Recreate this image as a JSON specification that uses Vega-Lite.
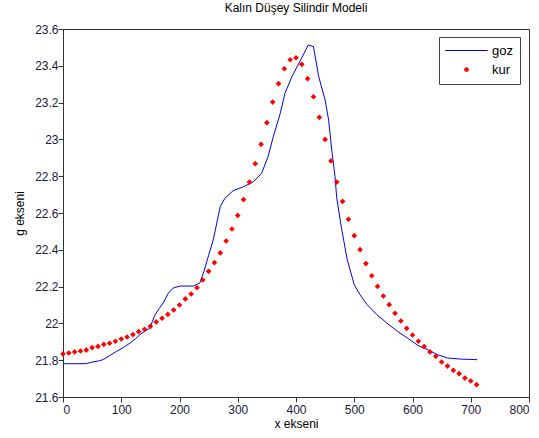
{
  "$schema": "https://vega.github.io/schema/vega-lite/v6.json",
  "width": 466,
  "height": 368,
  "autosize": {"type": "none"},
  "padding": {"left": 63, "top": 29, "right": 10, "bottom": 41},
  "background": "white",
  "title": {"text": "Kalın Düşey Silindir Modeli", "font": "Liberation Sans", "fontSize": 12, "fontWeight": "normal", "color": "#000000", "anchor": "middle", "offset": 8},
  "config": {
    "view": {"stroke": "#333333", "strokeWidth": 1},
    "axis": {"grid": false, "domain": true, "domainColor": "#333333", "ticks": true, "tickColor": "#333333", "tickWidth": 1, "labelFont": "Liberation Sans", "labelFontSize": 12, "labelColor": "#1a1a3a", "titleFont": "Liberation Sans", "titleFontSize": 12, "titleFontWeight": "normal", "titleColor": "#000000"}
  },
  "datasets": {
    "goz": [
      {"x": 0, "g": 21.781}, {"x": 40, "g": 21.781}, {"x": 50, "g": 21.79}, {"x": 61, "g": 21.796},
      {"x": 69, "g": 21.803}, {"x": 80, "g": 21.825}, {"x": 92, "g": 21.848}, {"x": 104, "g": 21.87},
      {"x": 115, "g": 21.893}, {"x": 124, "g": 21.915}, {"x": 132, "g": 21.939}, {"x": 141, "g": 21.958},
      {"x": 149, "g": 21.975}, {"x": 158, "g": 22.047}, {"x": 165, "g": 22.08}, {"x": 172, "g": 22.111},
      {"x": 181, "g": 22.165}, {"x": 189, "g": 22.192}, {"x": 201, "g": 22.203}, {"x": 224, "g": 22.203},
      {"x": 235, "g": 22.22}, {"x": 242, "g": 22.283}, {"x": 250, "g": 22.37}, {"x": 258, "g": 22.455},
      {"x": 270, "g": 22.636}, {"x": 278, "g": 22.68}, {"x": 292, "g": 22.721}, {"x": 310, "g": 22.743},
      {"x": 327, "g": 22.77}, {"x": 341, "g": 22.816}, {"x": 352, "g": 22.906}, {"x": 361, "g": 23.015},
      {"x": 373, "g": 23.142}, {"x": 381, "g": 23.25}, {"x": 393, "g": 23.341}, {"x": 408, "g": 23.432},
      {"x": 421, "g": 23.513}, {"x": 430, "g": 23.504}, {"x": 439, "g": 23.341}, {"x": 450, "g": 23.214},
      {"x": 456, "g": 23.105}, {"x": 462, "g": 22.924}, {"x": 467, "g": 22.797}, {"x": 470, "g": 22.68},
      {"x": 478, "g": 22.52}, {"x": 488, "g": 22.346}, {"x": 500, "g": 22.21}, {"x": 510, "g": 22.156},
      {"x": 522, "g": 22.102}, {"x": 539, "g": 22.047}, {"x": 556, "g": 22.002}, {"x": 574, "g": 21.957},
      {"x": 591, "g": 21.921}, {"x": 609, "g": 21.881}, {"x": 626, "g": 21.857}, {"x": 643, "g": 21.83},
      {"x": 660, "g": 21.812}, {"x": 683, "g": 21.806}, {"x": 711, "g": 21.803}
    ],
    "kur": [
      {"x": 0, "g": 21.834}, {"x": 10, "g": 21.839}, {"x": 20, "g": 21.845}, {"x": 30, "g": 21.85},
      {"x": 40, "g": 21.855}, {"x": 50, "g": 21.868}, {"x": 60, "g": 21.875}, {"x": 70, "g": 21.886},
      {"x": 80, "g": 21.892}, {"x": 90, "g": 21.903}, {"x": 100, "g": 21.915}, {"x": 110, "g": 21.926},
      {"x": 120, "g": 21.939}, {"x": 130, "g": 21.955}, {"x": 140, "g": 21.968}, {"x": 150, "g": 21.984},
      {"x": 160, "g": 22.008}, {"x": 170, "g": 22.028}, {"x": 180, "g": 22.049}, {"x": 190, "g": 22.073},
      {"x": 200, "g": 22.1}, {"x": 210, "g": 22.133}, {"x": 220, "g": 22.16}, {"x": 230, "g": 22.194},
      {"x": 240, "g": 22.236}, {"x": 250, "g": 22.283}, {"x": 260, "g": 22.33}, {"x": 270, "g": 22.383},
      {"x": 280, "g": 22.448}, {"x": 290, "g": 22.513}, {"x": 300, "g": 22.587}, {"x": 310, "g": 22.673},
      {"x": 320, "g": 22.768}, {"x": 330, "g": 22.868}, {"x": 340, "g": 22.973}, {"x": 350, "g": 23.091},
      {"x": 360, "g": 23.203}, {"x": 370, "g": 23.303}, {"x": 380, "g": 23.384}, {"x": 390, "g": 23.433},
      {"x": 400, "g": 23.444}, {"x": 410, "g": 23.408}, {"x": 420, "g": 23.33}, {"x": 430, "g": 23.232},
      {"x": 440, "g": 23.12}, {"x": 450, "g": 23.0}, {"x": 460, "g": 22.883}, {"x": 470, "g": 22.768},
      {"x": 480, "g": 22.663}, {"x": 490, "g": 22.566}, {"x": 500, "g": 22.477}, {"x": 510, "g": 22.401},
      {"x": 520, "g": 22.325}, {"x": 530, "g": 22.259}, {"x": 540, "g": 22.201}, {"x": 550, "g": 22.149},
      {"x": 560, "g": 22.102}, {"x": 570, "g": 22.055}, {"x": 580, "g": 22.013}, {"x": 590, "g": 21.973},
      {"x": 600, "g": 21.937}, {"x": 610, "g": 21.903}, {"x": 620, "g": 21.874}, {"x": 630, "g": 21.845},
      {"x": 640, "g": 21.821}, {"x": 650, "g": 21.79}, {"x": 660, "g": 21.768}, {"x": 670, "g": 21.745},
      {"x": 680, "g": 21.727}, {"x": 690, "g": 21.703}, {"x": 700, "g": 21.687}, {"x": 710, "g": 21.667}
    ]
  },
  "layer": [
    {
      "data": {"name": "goz"},
      "transform": [{"calculate": "'goz'", "as": "seri"}],
      "mark": {"type": "line", "strokeWidth": 1, "interpolate": "linear"},
      "encoding": {
        "x": {"field": "x", "type": "quantitative", "scale": {"domain": [0, 800], "nice": false, "zero": false},
              "axis": {"orient": "bottom", "values": [0, 100, 200, 300, 400, 500, 600, 700, 800], "title": "x ekseni", "tickSize": 5, "labelPadding": 2, "titlePadding": 3}},
        "y": {"field": "g", "type": "quantitative", "scale": {"domain": [21.6, 23.6], "nice": false, "zero": false},
              "axis": {"orient": "left", "values": [21.6, 21.8, 22, 22.2, 22.4, 22.6, 22.8, 23, 23.2, 23.4, 23.6], "format": ".3~r", "title": "g ekseni", "tickSize": 5, "labelPadding": 0, "titlePadding": 8}},
        "color": {"field": "seri", "type": "nominal", "scale": {"domain": ["goz", "kur"], "range": ["#0000ff", "#ff0000"]},
                  "legend": {"title": null, "orient": "none", "legendX": 376, "legendY": 8, "strokeColor": "#444444", "fillColor": "#ffffff", "padding": 7,
                             "labelFont": "Liberation Sans", "labelFontSize": 13, "labelColor": "#000000", "symbolOffset": 14, "rowPadding": 5, "labelOffset": 19,
                             "encode": {"symbols": {"update": {
                               "shape": {"signal": "datum.value === 'goz' ? 'stroke' : 'circle'"},
                               "size": {"signal": "datum.value === 'goz' ? 1800 : 12"},
                               "stroke": {"scale": "color", "field": "value"},
                               "fill": {"scale": "color", "field": "value"},
                               "strokeWidth": {"value": 1.2},
                               "opacity": {"value": 1}
                             }}}}}
      }
    },
    {
      "data": {"name": "kur"},
      "transform": [{"calculate": "'kur'", "as": "seri"}],
      "mark": {"type": "point", "filled": true, "shape": "diamond", "size": 32, "opacity": 1},
      "encoding": {
        "x": {"field": "x", "type": "quantitative",
              "axis": {"orient": "bottom", "values": [0, 100, 200, 300, 400, 500, 600, 700, 800], "title": "x ekseni", "tickSize": 5, "labelPadding": 2, "titlePadding": 3}},
        "y": {"field": "g", "type": "quantitative",
              "axis": {"orient": "left", "values": [21.6, 21.8, 22, 22.2, 22.4, 22.6, 22.8, 23, 23.2, 23.4, 23.6], "format": ".3~r", "title": "g ekseni", "tickSize": 5, "labelPadding": 0, "titlePadding": 8}},
        "color": {"field": "seri", "type": "nominal"}
      }
    }
  ]
}
